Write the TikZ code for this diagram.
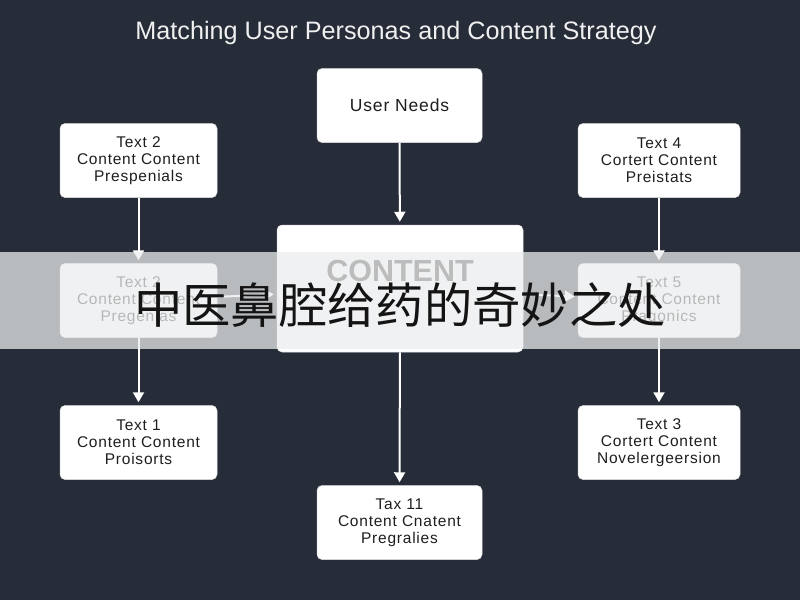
\documentclass[tikz,border=0pt]{standalone}
\usepackage{fontspec}
\setmainfont{Liberation Sans}
\newfontfamily\boxfont[LetterSpace=5]{Liberation Sans}
\newfontfamily\cjk{Noto Sans CJK SC}
\usetikzlibrary{arrows.meta}
\definecolor{bgc}{RGB}{38,44,56}
\definecolor{txc}{RGB}{30,30,30}
\definecolor{bandc}{RGB}{236,237,238}
\tikzset{
  box/.style={draw=white!88!black, line width=0.5pt, fill=white, rounded corners=5pt, align=center,
    text=txc, font=\boxfont\fontsize{15.5}{16.8}\selectfont, inner sep=0pt},
  smallbox/.style={box, minimum width=157pt, minimum height=74pt},
  sidebox/.style={box, minimum width=162pt, minimum height=74pt},
  midbox/.style={box, minimum width=165pt, minimum height=74pt},
  conn/.style={draw=white, line width=2pt, -{Triangle[width=11pt,length=10pt]}, shorten >=3pt},
}
\begin{document}
\begin{tikzpicture}[x=1pt,y=-1pt]
\fill[bgc] (0,0) rectangle (800,600);
\useasboundingbox (0,0) rectangle (800,600);

\node[text=white!94!black, font=\fontsize{25.2}{28}\selectfont] (title) at (396,33) {Matching User Personas and Content Strategy};

\node[midbox, font=\boxfont\fontsize{17.5}{19}\selectfont] (un) at (399.5,105.5) {User Needs};
\node[smallbox] (t2a) at (138.5,160.5) {Text 2\\Content Content\\Prespenials};
\node[sidebox] (t4) at (659,160.5) {Text 4\\Cortert Content\\Preistats};
\node[box, minimum width=246pt, minimum height=127pt] (ct) at (400,288.5) {};
\node[text=black!80, font=\bfseries\fontsize{30.5}{32}\selectfont] (ctlabel) at (400,271) {CONTENT};
\node[smallbox] (t2b) at (138.5,300.5) {Text 2\\Content Content\\Pregenias};
\node[sidebox] (t5) at (659,300.5) {Text 5\\Content Content\\Pragonics};
\node[smallbox] (t1) at (138.5,442.5) {Text 1\\Content Content\\Proisorts};
\node[sidebox] (t3) at (659,442.5) {Text 3\\Cortert Content\\Novelergeersion};
\node[midbox] (t11) at (399.5,522.5) {Tax 11\\Content Cnatent\\Pregralies};

\draw[conn] (un) -- (ct);
\draw[conn] (t2a) -- (t2b);
\draw[conn] (t2b) -- (t1);
\draw[conn] (t4) -- (t5);
\draw[conn] (t5) -- (t3);
\draw[conn] (ct) -- (t11);
\draw[conn] (t2b) -- (ct);
\draw[conn] (ct) -- (t5);

\fill[bandc, opacity=0.74] (0,252) rectangle (800,349);
\node[text=black!92, font=\cjk\fontsize{48.3}{50}\selectfont, inner sep=0pt] (banner) at (400,305) {中医鼻腔给药的奇妙之处};
\end{tikzpicture}
\end{document}
